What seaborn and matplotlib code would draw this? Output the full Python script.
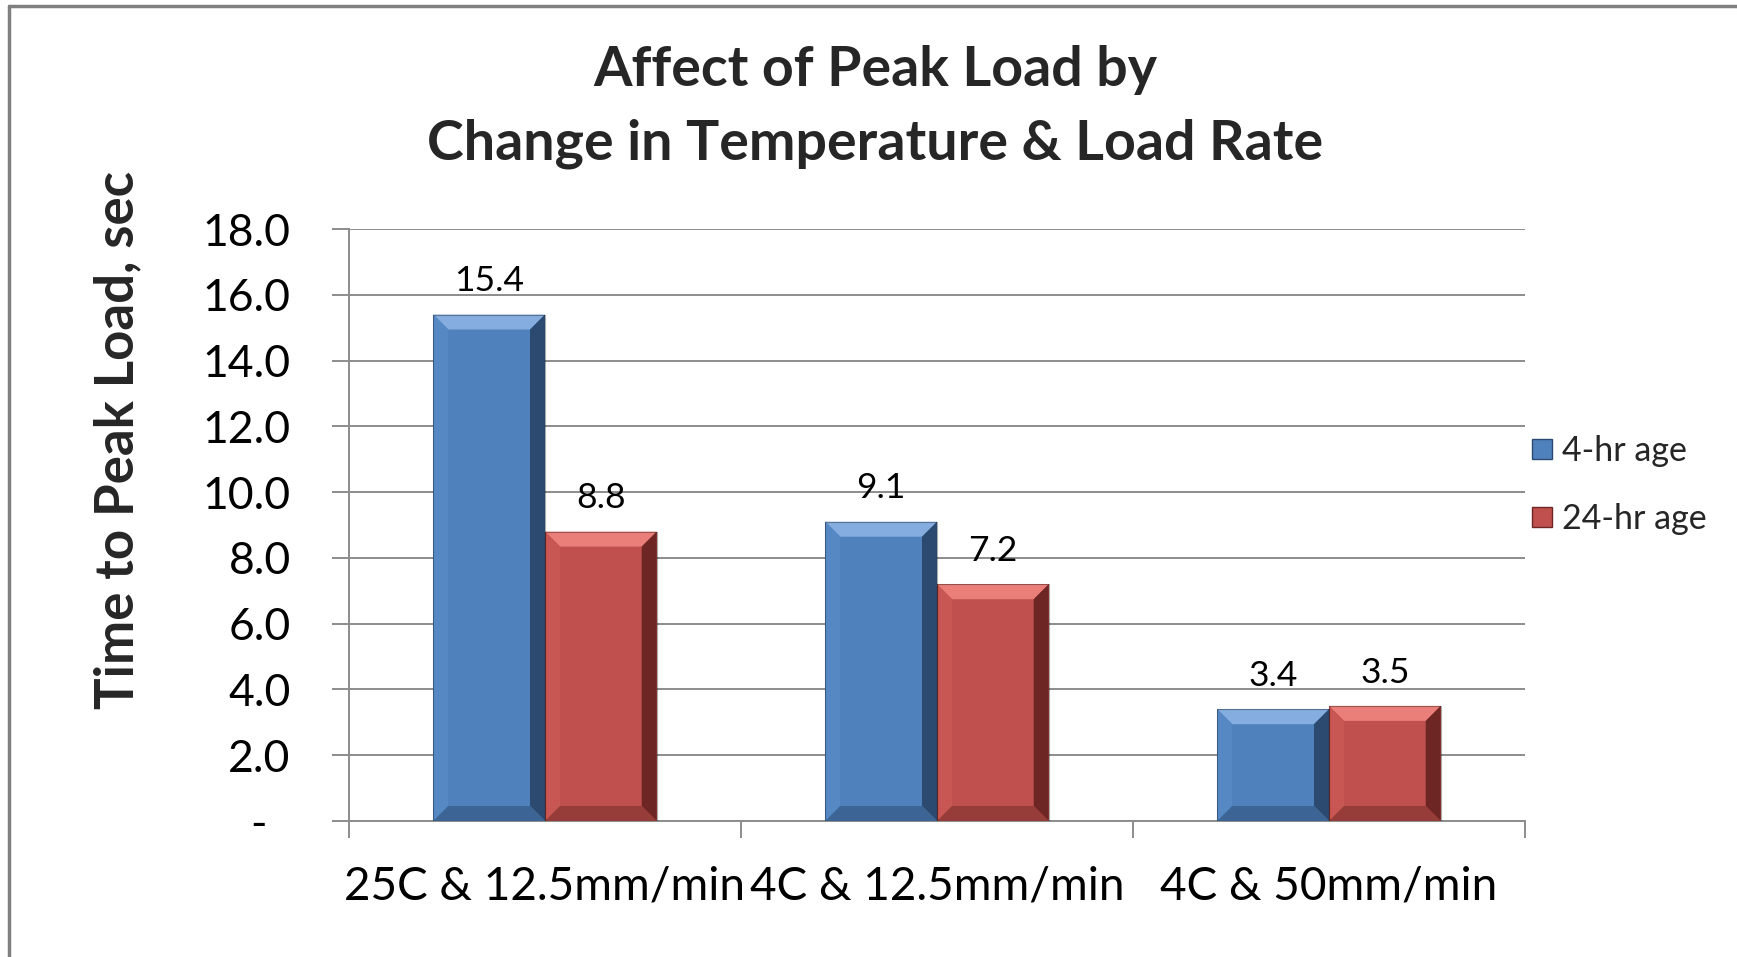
import matplotlib
matplotlib.use("Agg")
import matplotlib.pyplot as plt
from matplotlib.patches import Polygon
from matplotlib.lines import Line2D
import numpy as np
import pandas as pd
import seaborn as sns

# Data
conditions = ["25C & 12.5mm/min", "4C & 12.5mm/min", "4C & 50mm/min"]
series_names = ["4-hr age", "24-hr age"]
age_4hr = [15.4, 9.1, 3.4]
age_24hr = [8.8, 7.2, 3.5]
y_ticks = [0, 2, 4, 6, 8, 10, 12, 14, 16, 18]

title_lines = ["Affect of Peak Load by", "Change in Temperature & Load Rate"]
y_label = "Time to Peak Load, sec"

colors = {"4-hr age": "#4F81BD", "24-hr age": "#C0504D"}
bevel_light = {"4-hr age": "#86ADE0", "24-hr age": "#EA7F7A"}
bevel_side = {"4-hr age": "#5688C4", "24-hr age": "#C85652"}
bevel_dark = {"4-hr age": "#2C4A70", "24-hr age": "#6E2624"}
bevel_bottom = {"4-hr age": "#3C6495", "24-hr age": "#963C39"}

df = pd.DataFrame({
    "condition": conditions * 2,
    "series": [series_names[0]] * 3 + [series_names[1]] * 3,
    "value": age_4hr + age_24hr,
})

sns.set_theme(style="white")
plt.rcParams["font.family"] = ["Lato", "DejaVu Sans"]

W, H = 1737, 957
fig = plt.figure(figsize=(W / 100, H / 100), dpi=100)
ax = fig.add_axes([349 / W, 1 - 821 / H, (1525 - 349) / W, (821 - 229) / H])

sns.barplot(data=df, x="condition", y="value", hue="series", order=conditions,
            hue_order=series_names, palette=colors, width=0.57,
            saturation=1, ax=ax, legend=False, linewidth=0, zorder=3)

ax.set_xlim(-0.5, 2.5)
ax.set_ylim(0, 18)

grid_c = "#8C8C8C"
ax.set_yticks(y_ticks)
# accounting-style labels: zero shown as a dash with trailing padding
ax.set_yticklabels(["-  " if v == 0 else f"{v:.1f}" for v in y_ticks], fontsize=32)
ax.yaxis.grid(True, color=grid_c, linewidth=1.4, zorder=0)
ax.set_axisbelow(True)
ax.tick_params(axis="y", direction="out", length=12, width=1.4, color=grid_c,
               pad=30, left=True, labelcolor="black")

# category boundaries as ticks, category names as minor-position labels
ax.set_xticks([-0.5, 0.5, 1.5, 2.5])
ax.set_xticklabels([])
ax.set_xticks([0, 1, 2], minor=True)
ax.set_xticklabels(conditions, minor=True, fontsize=33)
ax.tick_params(axis="x", which="major", direction="out", length=12, width=1.4,
               color=grid_c, bottom=True)
ax.tick_params(axis="x", which="minor", length=0, pad=32, labelcolor="black")
ax.set_xlabel("")
ax.set_ylabel("")

for s in ["top", "right"]:
    ax.spines[s].set_visible(False)
for s in ["left", "bottom"]:
    ax.spines[s].set_color(grid_c)
    ax.spines[s].set_linewidth(1.4)

# bevel shading on each bar (constant pixel size)
to_disp = ax.transData
to_data = ax.transData.inverted()
bars = [p for p in ax.patches]
bar_series = [series_names[0]] * 3 + [series_names[1]] * 3
bv = 15
for p, name in zip(bars, bar_series):
    x0, y0 = p.get_x(), p.get_y()
    x1, y1 = x0 + p.get_width(), y0 + p.get_height()
    (X0, Y0), (X1, Y1) = to_disp.transform([(x0, y0), (x1, y1)])
    b = min(bv, (X1 - X0) / 2, (Y1 - Y0) / 2)
    polys = {
        "top": [(X0, Y1), (X1, Y1), (X1 - b, Y1 - b), (X0 + b, Y1 - b)],
        "left": [(X0, Y0), (X0 + b, Y0 + b), (X0 + b, Y1 - b), (X0, Y1)],
        "right": [(X1, Y0), (X1, Y1), (X1 - b, Y1 - b), (X1 - b, Y0 + b)],
        "bottom": [(X0, Y0), (X1, Y0), (X1 - b, Y0 + b), (X0 + b, Y0 + b)],
    }
    fills = {"top": bevel_light[name], "left": bevel_side[name],
             "right": bevel_dark[name], "bottom": bevel_bottom[name]}
    for k, pts in polys.items():
        ax.add_patch(Polygon(to_data.transform(pts), closed=True,
                             facecolor=fills[k], edgecolor="none", zorder=4))
    ax.add_patch(Polygon(to_data.transform([(X0, Y0), (X1, Y0), (X1, Y1), (X0, Y1)]),
                         closed=True, facecolor="none", edgecolor="#00000055",
                         linewidth=0.8, zorder=5))
    ax.annotate(f"{p.get_height():.1f}", xy=((x0 + x1) / 2, y1),
                xytext=(0, 24), textcoords="offset points",
                ha="center", va="center", fontsize=25.5, color="black", zorder=6)

# titles
fig.text(875 / W, 1 - 70 / H, title_lines[0], ha="center", va="center",
         fontsize=40, fontweight="bold")
fig.text(875 / W, 1 - 144 / H, title_lines[1], ha="center", va="center",
         fontsize=40, fontweight="bold")
fig.text(118 / W, 1 - 440 / H, y_label, rotation=90, ha="center", va="center",
         fontsize=38, fontweight="bold")

# legend
handles = [Line2D([], [], marker="s", linestyle="none", markersize=15,
                  markerfacecolor=colors[n], markeredgecolor=bevel_dark[n],
                  markeredgewidth=1.0) for n in series_names]
fig.legend(handles, series_names, loc="center left",
           bbox_to_anchor=(1516 / W, 1 - 485 / H), frameon=False,
           fontsize=24.5, handlelength=0.7, handletextpad=0.25, labelspacing=1.05,
           borderaxespad=0)

# outer chart frame (left and top edges)
frame_c = "#808080"
fig.add_artist(Line2D([9 / W, 9 / W], [0, 1 - 6 / H], color=frame_c,
                      linewidth=2.5, transform=fig.transFigure))
fig.add_artist(Line2D([9 / W, 1], [1 - 6 / H, 1 - 6 / H], color=frame_c,
                      linewidth=2.5, transform=fig.transFigure))

fig.savefig("out.png", dpi=100, facecolor="white")
